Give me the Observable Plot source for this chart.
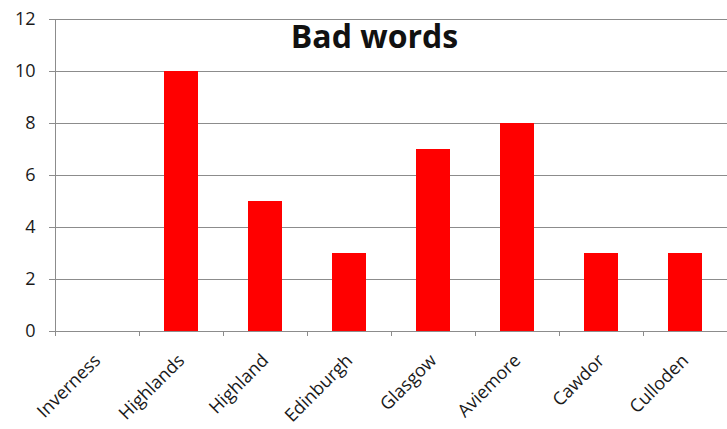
<!DOCTYPE html>
<html>
<head>
<meta charset="utf-8">
<script src="https://cdn.jsdelivr.net/npm/d3@7"></script>
<script src="https://cdn.jsdelivr.net/npm/@observablehq/plot@0.6"></script>
<style>
  html, body { margin: 0; padding: 0; background: #fff; }
  svg { display: block; }
</style>
</head>
<body>
<div id="chart"></div>
<script>
const categories = ["Inverness", "Highlands", "Highland", "Edinburgh", "Glasgow", "Aviemore", "Cawdor", "Culloden"];
const values = [0, 10, 5, 3, 7, 8, 3, 3];
const yTicks = [0, 2, 4, 6, 8, 10, 12];
const title = "Bad words";

const data = categories.map((c, i) => ({category: c, value: values[i]}));

const W = 727, H = 429;
const mL = 55, mR = 0, mT = 19, mB = 98;
const step = (W - mL - mR) / categories.length;
const gray = "#8c8c8c";
const font = "'Open Sans', 'DejaVu Sans', sans-serif";

const chart = Plot.plot({
  width: W,
  height: H,
  marginLeft: mL,
  marginRight: mR,
  marginTop: mT,
  marginBottom: mB,
  style: {fontFamily: font, fontSize: "18px", color: "#1a1a1a", background: "#fff"},
  x: {domain: categories, paddingInner: 0.6, paddingOuter: 0.3, axis: null},
  y: {domain: [0, 12], axis: null},
  marks: [
    Plot.gridY(yTicks, {stroke: gray, strokeOpacity: 1}),
    Plot.axisY(yTicks, {tickSize: 6, tickPadding: 14, stroke: gray, strokeOpacity: 1, fill: "#1a1a1a", label: null, fontSize: 18}),
    Plot.ruleX([categories[0]], {dx: -step / 2, stroke: gray}),
    Plot.axisX({tickSize: 5, fill: "none", dx: -step / 2, stroke: gray, label: null}),
    Plot.axisX({tickSize: 0, tickRotate: -45, tickPadding: 26, fill: "#1a1a1a", label: null, fontSize: 18}),
    Plot.barY(data, {x: "category", y: "value", fill: "#ff0000"}),
    Plot.text([title], {frameAnchor: "top", lineAnchor: "bottom", dy: 28, dx: -17, fontSize: 32, fontWeight: "bold", fill: "#111"})
  ]
});
document.getElementById("chart").append(chart);
</script>
</body>
</html>
